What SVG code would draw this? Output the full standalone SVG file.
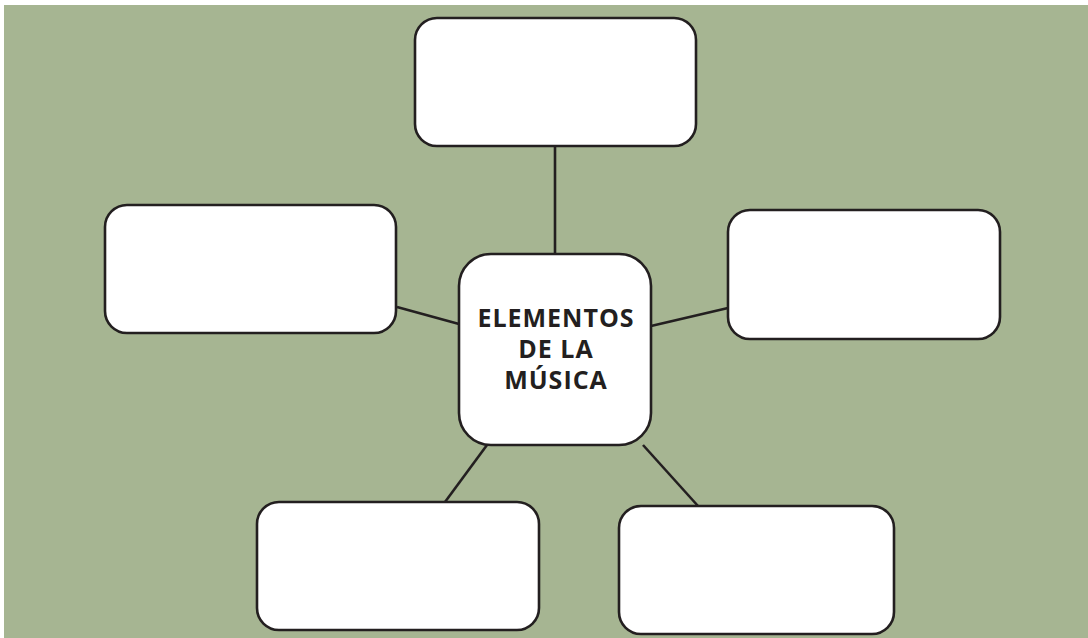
<svg xmlns="http://www.w3.org/2000/svg" width="1088" height="638" viewBox="0 0 1088 638">
<style>
.box{fill:#fff;stroke:#231f20;stroke-width:2.6}
.conn line{stroke:#231f20;stroke-width:2.6}
.lbl{font-family:"Open Sans","Liberation Sans",sans-serif;font-weight:700;font-size:25px;fill:#231f20;text-anchor:middle;letter-spacing:1px}
</style>
<rect x="0" y="0" width="1088" height="638" fill="#fff"/>
<rect x="4" y="5" width="1084" height="633" fill="#a6b592"/>
<g class="conn" id="connectors">
<line x1="555" y1="146" x2="555" y2="254"/>
<line x1="397" y1="307" x2="459" y2="324"/>
<line x1="651" y1="326" x2="728" y2="308"/>
<line x1="487" y1="445" x2="445" y2="502"/>
<line x1="643" y1="445" x2="698" y2="506"/>
</g>
<g id="top"><rect class="box" x="415" y="18" width="281" height="128" rx="22"/></g>
<g id="left"><rect class="box" x="105" y="205" width="291" height="128" rx="22"/></g>
<g id="right"><rect class="box" x="728" y="210" width="272" height="129" rx="22"/></g>
<g id="bottomleft"><rect class="box" x="257" y="502" width="282" height="128" rx="22"/></g>
<g id="bottomright"><rect class="box" x="619" y="506" width="275" height="128" rx="22"/></g>
<g id="center">
<rect class="box" x="459" y="254" width="192" height="191" rx="32"/>
<text class="lbl" x="556" y="327">ELEMENTOS</text>
<text class="lbl" x="556" y="358">DE LA</text>
<text class="lbl" x="556" y="389">MÚSICA</text>
</g>
</svg>
